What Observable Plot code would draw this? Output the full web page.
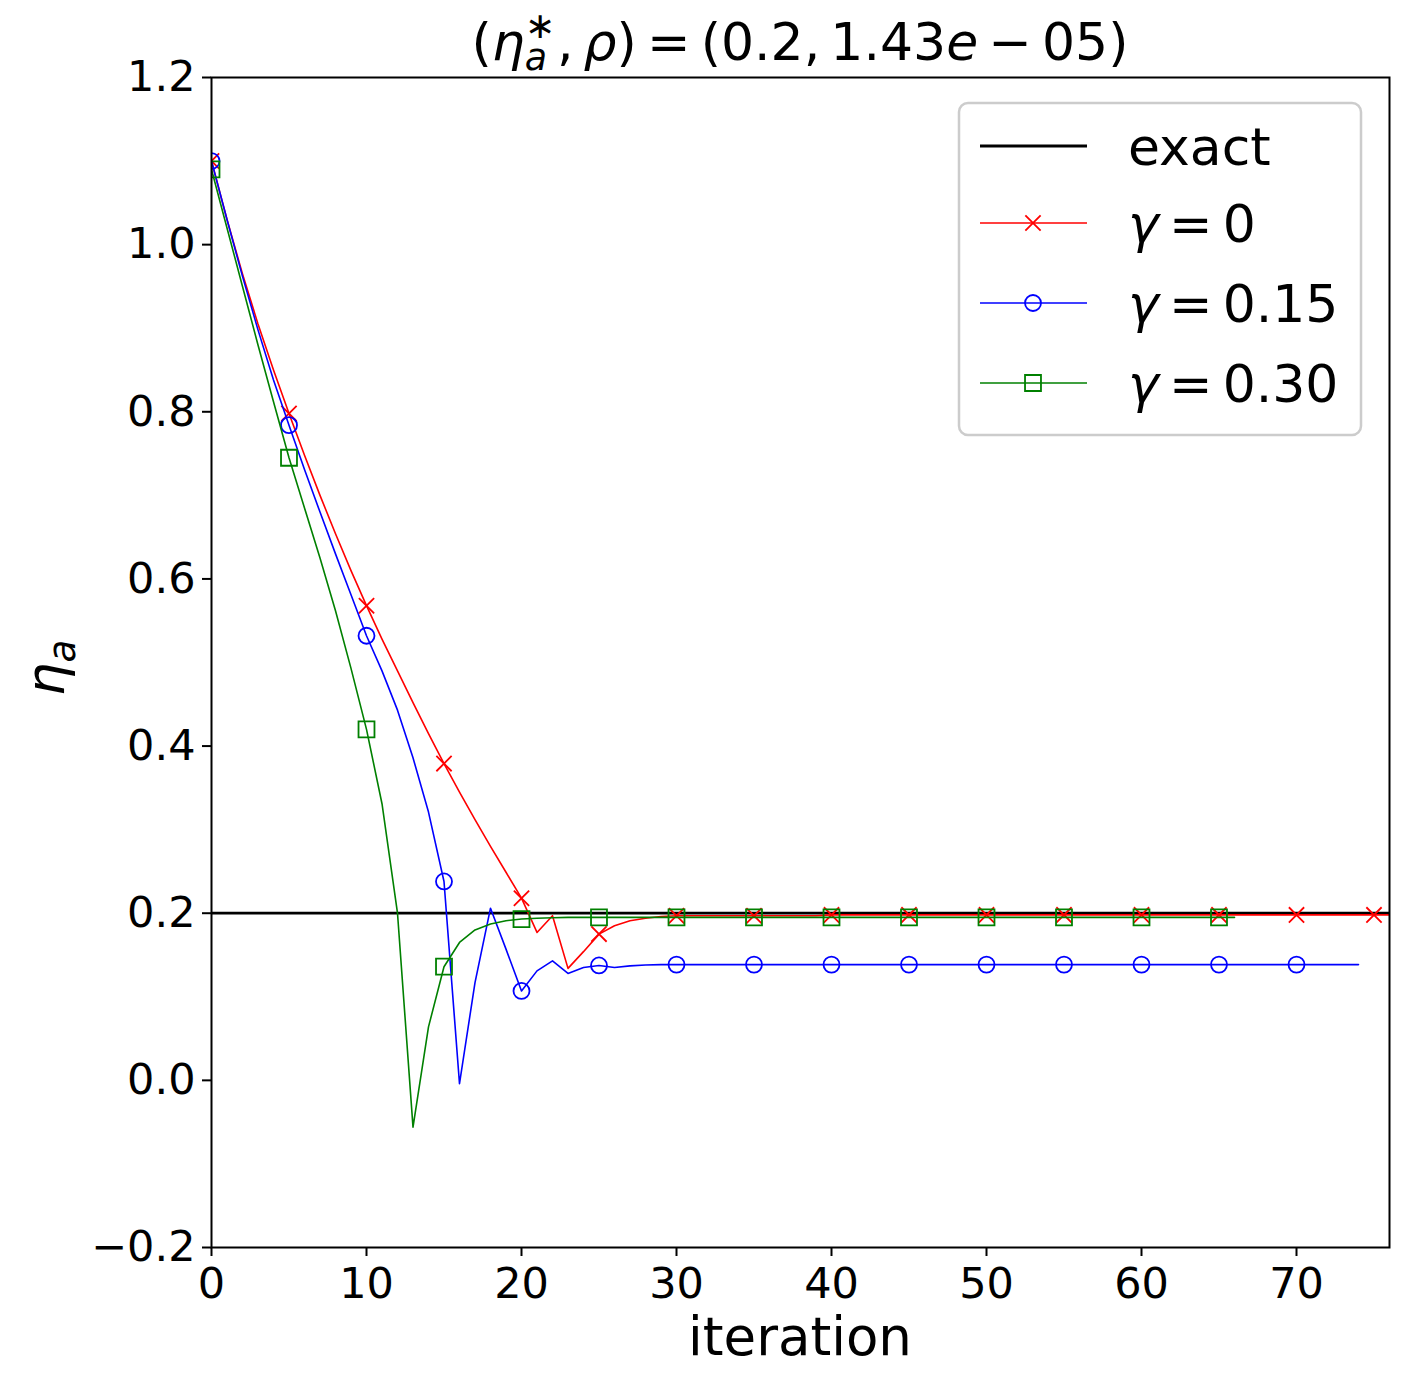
<!DOCTYPE html>
<html><head><meta charset="utf-8">
<script src="https://cdn.jsdelivr.net/npm/d3@7"></script>
<script src="https://cdn.jsdelivr.net/npm/@observablehq/plot@0.6"></script>
<style>body{margin:0;background:#fff;} svg{display:block;} text{white-space:pre;}</style>
</head><body><div id="chart"></div>
<script>
// ---- data ----
const redValues = [
  1.10, 1.03, 0.965, 0.905, 0.85, 0.798, 0.748, 0.70, 0.654, 0.61,
  0.568, 0.528, 0.49, 0.452, 0.415, 0.379, 0.345, 0.312, 0.28, 0.249,
  0.218, 0.177, 0.197, 0.134, 0.154, 0.175, 0.185, 0.191, 0.194, 0.196,
  0.197, 0.197, 0.197, 0.197, 0.197, 0.197, 0.197, 0.197, 0.197, 0.197,
  0.198, 0.198, 0.198, 0.198, 0.198, 0.198, 0.198, 0.198, 0.198, 0.198,
  0.198, 0.198, 0.198, 0.198, 0.198, 0.198, 0.198, 0.198, 0.198, 0.198,
  0.198, 0.198, 0.198, 0.198, 0.198, 0.198, 0.198, 0.198, 0.198, 0.198,
  0.198, 0.198, 0.198, 0.198, 0.198, 0.198, 0.198
];
const blueValues = [
  1.10, 1.03, 0.962, 0.898, 0.838, 0.784, 0.731, 0.68, 0.63, 0.581,
  0.532, 0.49, 0.443, 0.386, 0.321, 0.238, -0.004, 0.117, 0.206, 0.157,
  0.107, 0.131, 0.143, 0.128, 0.135, 0.1375, 0.135, 0.137, 0.138, 0.1385,
  0.1385, 0.1385, 0.1385, 0.1385, 0.1385, 0.1385, 0.1385, 0.1385, 0.1385, 0.1385,
  0.1385, 0.1385, 0.1385, 0.1385, 0.1385, 0.1385, 0.1385, 0.1385, 0.1385, 0.1385,
  0.1385, 0.1385, 0.1385, 0.1385, 0.1385, 0.1385, 0.1385, 0.1385, 0.1385, 0.1385,
  0.1385, 0.1385, 0.1385, 0.1385, 0.1385, 0.1385, 0.1385, 0.1385, 0.1385, 0.1385,
  0.1385, 0.1385, 0.1385, 0.1385, 0.1385
];
const greenValues = [
  1.09, 1.02, 0.95, 0.88, 0.812, 0.745, 0.685, 0.625, 0.562, 0.493,
  0.42, 0.331, 0.20, -0.056, 0.064, 0.136, 0.165, 0.18, 0.187, 0.191,
  0.193, 0.194, 0.1945, 0.195, 0.195, 0.195, 0.195, 0.195, 0.195, 0.195,
  0.195, 0.195, 0.195, 0.195, 0.195, 0.195, 0.195, 0.195, 0.195, 0.195,
  0.195, 0.195, 0.195, 0.195, 0.195, 0.195, 0.195, 0.195, 0.195, 0.195,
  0.195, 0.195, 0.195, 0.195, 0.195, 0.195, 0.195, 0.195, 0.195, 0.195,
  0.195, 0.195, 0.195, 0.195, 0.195, 0.195, 0.195
];
const exactValue = 0.2;
const seriesLabels = ["0", "0.15", "0.30"];
const seriesColors = ["#ff0000", "#0000ff", "#008000"];
const seriesSymbols = ["times", "circle", "square"];
const markEvery = 5;
const xTicks = [0, 10, 20, 30, 40, 50, 60, 70];
const yTicks = [-0.2, 0.0, 0.2, 0.4, 0.6, 0.8, 1.0, 1.2];
const xDomain = [0, 76];
const yDomain = [-0.2, 1.2];

// ---- build ----
const allSeries = [redValues, blueValues, greenValues];
const seriesData = allSeries.map((vals, s) => vals.map((v, i) => ({i, v, s})));
const symR = [7, 8, 9];

const marks = [Plot.ruleY([exactValue], {stroke: "black", strokeWidth: 2.8})];
seriesData.forEach((rows, s) => {
  marks.push(Plot.line(rows, {x: "i", y: "v", stroke: seriesColors[s], strokeWidth: 1.6, clip: true}));
  marks.push(Plot.dot(rows.filter(d => d.i % markEvery === 0), {
    x: "i", y: "v", symbol: seriesSymbols[s], r: symR[s],
    stroke: seriesColors[s], fill: "none", strokeWidth: 1.8, clip: true
  }));
});
marks.push(Plot.frame({stroke: "black", strokeWidth: 2}));

const plot = Plot.plot({
  width: 1409, height: 1388,
  marginLeft: 211, marginRight: 20, marginTop: 77, marginBottom: 141,
  style: {fontFamily: "DejaVu Sans", fontSize: "43px", background: "white", color: "black", overflow: "visible"},
  x: {domain: xDomain, ticks: xTicks, tickSize: 9, tickPadding: 11, label: null, tickFormat: d => String(d)},
  y: {domain: yDomain, ticks: yTicks, tickSize: 9, tickPadding: 7, label: null, tickFormat: d3.format(".1f")},
  marks
});
document.getElementById("chart").appendChild(plot);

const svg = d3.select(plot);
svg.selectAll('g[aria-label$="axis tick"]').attr("stroke-width", 2);
svg.selectAll('g[aria-label$="axis"] .tick line').attr("stroke-width", 2);

// ---- math-like text helper ----
function styleText(t, size, italic) {
  return t.attr("font-family", "DejaVu Sans").attr("font-size", size)
    .attr("font-style", italic ? "italic" : "normal").attr("text-anchor", "start").attr("fill", "black");
}
function measure(parent, text, size, italic) {
  const t = styleText(parent.append("text"), size, italic).text(text);
  const w = t.node().getComputedTextLength();
  t.remove();
  return w;
}
// pieces: {t, it, s: scale, dy: em shift, stack: share x with next, gap: em of blank advance}
function mathText(parent, pieces, size, anchor) {
  const g = parent.append("g");
  let cx = 0, stackW = 0;
  const placed = [];
  pieces.forEach(p => {
    if (p.gap) { cx += p.gap * size; return; }
    const fs = size * (p.s || 1);
    const w = measure(g, p.t, fs, p.it);
    placed.push({p, x: cx, fs});
    if (p.stack) { stackW = w; return; }
    cx += Math.max(w, stackW);
    stackW = 0;
  });
  const off = anchor === "middle" ? -cx / 2 : anchor === "end" ? -cx : 0;
  placed.forEach(({p, x, fs}) => {
    styleText(g.append("text"), fs, p.it).attr("x", x + off).attr("y", (p.dy || 0) * size).text(p.t);
  });
  return g;
}
const SP = {gap: 0.195};

// title
mathText(svg.append("g").attr("transform", "translate(800,60)"), [
  {t: "("}, {t: "η", it: true},
  {t: "∗", s: 0.7, dy: -0.42, stack: true}, {t: "a", it: true, s: 0.7, dy: 0.2},
  {gap: 0.03}, {t: ","}, SP, {t: "ρ", it: true}, {t: ")"},
  SP, {t: "="}, SP, {t: "(0.2,"}, SP, {t: "1.43"}, {t: "e", it: true},
  SP, {t: "−"}, SP, {t: "05)"}
], 52, "middle");

// x label
mathText(svg.append("g").attr("transform", "translate(800,1355)"), [{t: "iteration"}], 53, "middle");

// y label
mathText(svg.append("g").attr("transform", "translate(64,668) rotate(-90)"), [
  {t: "η", it: true}, {t: "a", it: true, s: 0.7, dy: 0.2}
], 53, "middle");

// legend
const leg = svg.append("g");
leg.append("rect").attr("x", 959).attr("y", 103).attr("width", 402).attr("height", 332)
  .attr("rx", 9).attr("fill", "white").attr("fill-opacity", 0.85)
  .attr("stroke", "#cccccc").attr("stroke-width", 2.5);
const rowY = [146, 223, 303, 383];
const baseY = [165, 242, 322, 402];
leg.append("line").attr("x1", 980).attr("x2", 1087).attr("y1", rowY[0]).attr("y2", rowY[0])
  .attr("stroke", "black").attr("stroke-width", 2.8);
styleText(leg.append("text"), 52, false).attr("x", 1128).attr("y", baseY[0]).text("exact");
const symMap = {times: d3.symbolTimes, circle: d3.symbolCircle, square: d3.symbolSquare};
seriesLabels.forEach((lab, s) => {
  const y = rowY[s + 1];
  leg.append("line").attr("x1", 980).attr("x2", 1087).attr("y1", y).attr("y2", y)
    .attr("stroke", seriesColors[s]).attr("stroke-width", 1.6);
  const r = symR[s];
  leg.append("path").attr("transform", `translate(1033,${y})`)
    .attr("d", d3.symbol(symMap[seriesSymbols[s]], Math.PI * r * r)())
    .attr("fill", "none").attr("stroke", seriesColors[s]).attr("stroke-width", 1.8);
  mathText(leg.append("g").attr("transform", `translate(1128,${baseY[s + 1]})`), [
    {t: "γ", it: true}, SP, {t: "="}, SP, {t: lab}
  ], 52, "start");
});
</script>
</body></html>
